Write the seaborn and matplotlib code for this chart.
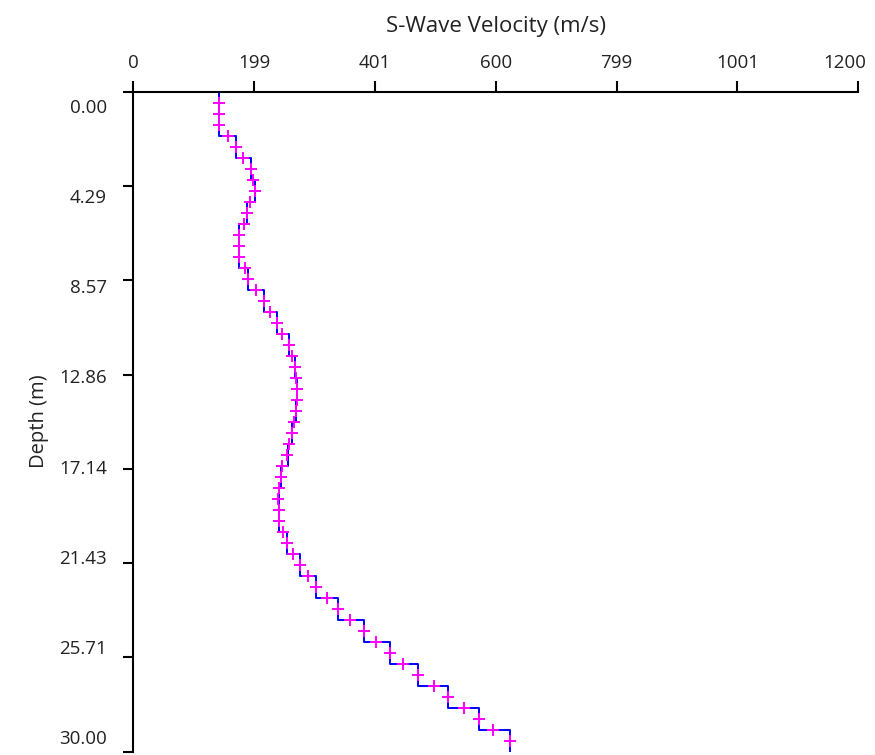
import numpy as np
import pandas as pd
import matplotlib
matplotlib.use("Agg")
import matplotlib.pyplot as plt
import matplotlib.transforms as mtransforms
import seaborn as sns

# ---- data ----
layer_bounds = [0, 1, 2, 3, 4, 5, 6, 7, 8, 9, 10, 11, 12, 13, 14, 15,
                16, 17, 18, 19, 20, 21, 22, 23, 24, 25, 26, 27, 28, 29, 30]
layer_vs = [142, 142, 170, 195, 201, 189, 175, 175, 190, 216,
            238, 258, 268, 271, 269, 263, 256, 245, 241, 241,
            255, 276, 302, 339, 382, 425, 472, 521, 573, 624]

marker_depth = [0.5, 1.0, 1.5, 2.0, 2.5, 3.0, 3.5, 4.0, 4.5, 5.0,
                5.5, 6.0, 6.5, 7.0, 7.5, 8.0, 8.5, 9.0, 9.5, 10.0,
                10.5, 11.0, 11.5, 12.0, 12.5, 13.0, 13.5, 14.0, 14.5, 15.0,
                15.5, 16.0, 16.5, 17.0, 17.5, 18.0, 18.5, 19.0, 19.5, 20.0,
                20.5, 21.0, 21.5, 22.0, 22.5, 23.0, 23.5, 24.0, 24.5, 25.0,
                25.5, 26.0, 26.5, 27.0, 27.5, 28.0, 28.5, 29.0, 29.5]
marker_vs = [142, 142, 142, 156, 170, 182, 195, 198, 201, 193,
             189, 184, 175, 175, 175, 185, 190, 203, 216, 227,
             238, 247, 258, 262, 268, 270, 271, 271, 269, 266,
             262, 257, 255, 247, 245, 241, 240, 241, 241, 248,
             255, 265, 276, 289, 302, 320, 339, 359, 382, 401,
             425, 447, 472, 497, 521, 547, 573, 596, 624]

x_ticks = [0, 200, 400, 600, 800, 1000, 1200]
x_tick_labels = ["0", "199", "401", "600", "799", "1001", "1200"]
y_ticks = [0, 30 / 7, 60 / 7, 90 / 7, 120 / 7, 150 / 7, 180 / 7, 30]
y_tick_labels = ["0.00", "4.29", "8.57", "12.86", "17.14", "21.43", "25.71", "30.00"]

x_label = "S-Wave Velocity (m/s)"
y_label = "Depth (m)"

# ---- build step profile table ----
step_depth = []
step_vs = []
for i, v in enumerate(layer_vs):
    step_depth += [layer_bounds[i], layer_bounds[i + 1]]
    step_vs += [v, v]
df_line = pd.DataFrame({"vs": step_vs, "depth": step_depth})
df_pts = pd.DataFrame({"vs": marker_vs, "depth": marker_depth})

sns.set_style("white")
plt.rcParams["font.family"] = ["Open Sans", "DejaVu Sans"]

fig = plt.figure(figsize=(8.75, 7.55), dpi=100)
ax = fig.add_axes([0.1523, 0.0044, 0.8286, 0.8742])

sns.lineplot(data=df_line, x="vs", y="depth", sort=False, estimator=None,
             color="#0000FF", linewidth=1.4, ax=ax, zorder=2)
sns.scatterplot(data=df_pts, x="vs", y="depth", marker="+", s=70,
                color="#FF00FF", linewidth=1.4, ax=ax, zorder=3)

ax.set_xlim(0, 1200)
ax.set_ylim(30, 0)

ax.xaxis.tick_top()
ax.xaxis.set_label_position("top")
ax.set_xticks(x_ticks)
ax.set_xticklabels(x_tick_labels, fontsize=13.5, color="#222222")
ax.set_yticks(y_ticks)
ax.set_yticklabels(y_tick_labels, fontsize=13.5, color="#222222")

ax.set_xlabel(x_label, fontsize=16, labelpad=16, color="#222222")
ax.set_ylabel(y_label, fontsize=14.5, labelpad=7, color="#222222")

ax.tick_params(axis="x", direction="out", length=8, width=1.5, pad=6,
               top=True, bottom=False, color="black")
ax.tick_params(axis="y", direction="out", length=7, width=1.5, pad=12,
               left=True, color="black")

# last x label sits left of its tick, as in the reference
xl = ax.get_xticklabels()
xl[-1].set_ha("right")
off_x = mtransforms.ScaledTranslation(8 / 100.0, 0, fig.dpi_scale_trans)
xl[-1].set_transform(xl[-1].get_transform() + off_x)

# reference y labels drift downward relative to their ticks
for k, lab in enumerate(ax.get_yticklabels()):
    shift_px = 14.5 - 4.2 * k
    off = mtransforms.ScaledTranslation(0, -shift_px / 100.0, fig.dpi_scale_trans)
    lab.set_transform(lab.get_transform() + off)

for side in ["right", "bottom"]:
    ax.spines[side].set_visible(False)
for side in ["top", "left"]:
    ax.spines[side].set_visible(True)
    ax.spines[side].set_color("black")
    ax.spines[side].set_linewidth(1.5)

ax.grid(False)
fig.savefig("out.png", dpi=100)
